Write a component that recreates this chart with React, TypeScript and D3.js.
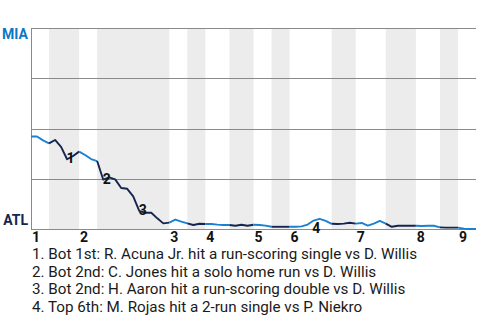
import React from "react";
import * as d3 from "d3";

// MIA win probability (%) after each play, play index 0..74
const miaWinProb = [
  46.0, 46.0, 44.1, 42.6, 44.3, 40.9, 34.7, 36.3, 38.5, 36.8,
  34.8, 33.8, 24.6, 25.7, 24.7, 20.4, 20.0, 16.2, 9.0, 8.1,
  8.1, 5.3, 2.8, 3.2, 4.7, 3.7, 2.8, 2.0, 2.6, 2.5,
  2.5, 2.2, 2.0, 2.0, 1.6, 2.1, 1.6, 2.1, 2.0, 1.7,
  1.1, 1.1, 1.1, 1.1, 1.1, 1.3, 2.2, 4.2, 5.0, 4.0,
  2.6, 2.5, 2.7, 3.1, 2.7, 3.0, 1.7, 2.7, 4.0, 2.7,
  1.1, 1.6, 1.6, 1.6, 1.6, 1.5, 1.6, 1.6, 0.8, 0.7,
  0.7, 0.7, 0.1, 0.0, 0.0,
];

const inningLabels = ["1", "2", "3", "4", "5", "6", "7", "8", "9"];
const inningStart = [0, 8, 23, 29, 37, 43, 54, 64, 71];
const bottomStart = [3, 11, 26, 33, 40, 50, 59, 68];
const lastPlay = 74;

const gridValues = [0, 25, 50, 75, 100];

const annotationPlays = [6, 12, 18, 48];
const annotationLabels = ["1", "2", "3", "4"];
const annotationTexts = [
  "1. Bot 1st: R. Acuna Jr. hit a run-scoring single vs D. Willis",
  "2. Bot 2nd: C. Jones hit a solo home run vs D. Willis",
  "3. Bot 2nd: H. Aaron hit a run-scoring double vs D. Willis",
  "4. Top 6th: M. Rojas hit a 2-run single vs P. Niekro",
];

const teamTop = "MIA";
const teamBottom = "ATL";

const MIA_BLUE = "#1b80d0";
const MIA_LABEL = "#0b78c5";
const ATL_NAVY = "#14254f";
const FONT = "Roboto, 'Noto Sans', sans-serif";

export default function App() {
  const W = 480;
  const H = 320;
  const left = 31;
  const right = 476;
  const top = 28;
  const bottom = 229;

  const x = d3.scaleLinear().domain([0, lastPlay]).range([left, right]);
  const y = d3.scaleLinear().domain([0, 100]).range([bottom, top]);

  const segPath = (a: number, b: number) => {
    const pts: [number, number][] = [];
    for (let i = a; i <= b; i++) pts.push([x(i), y(miaWinProb[i])]);
    return d3.line()(pts) || "";
  };

  const bands = bottomStart.map((s, i) => {
    const e = i + 1 < inningStart.length ? inningStart[i + 1] : lastPlay;
    return { s, e };
  });

  const segments: { a: number; b: number; color: string }[] = [];
  inningStart.forEach((s, i) => {
    const bs = i < bottomStart.length ? bottomStart[i] : lastPlay;
    segments.push({ a: s, b: bs, color: MIA_BLUE });
    if (i < bottomStart.length) {
      const e = i + 1 < inningStart.length ? inningStart[i + 1] : lastPlay;
      segments.push({ a: bs, b: e, color: ATL_NAVY });
    }
  });

  return (
    <svg
      width={W}
      height={H}
      style={{ position: "absolute", left: 0, top: 0, background: "#fff" }}
      fontFamily={FONT}
    >
      {bands.map((b, i) => (
        <rect
          key={"b" + i}
          x={x(b.s)}
          y={top}
          width={x(b.e) - x(b.s)}
          height={bottom - top}
          fill="#ececec"
        />
      ))}
      {gridValues.map((v) => (
        <line
          key={"g" + v}
          x1={left}
          x2={right}
          y1={Math.round(y(v)) + 0.5}
          y2={Math.round(y(v)) + 0.5}
          stroke="#8a8a8a"
          strokeWidth={1}
        />
      ))}
      <line
        x1={left + 0.5}
        x2={left + 0.5}
        y1={top}
        y2={bottom + 1}
        stroke="#8a8a8a"
        strokeWidth={1}
      />
      {segments.map((s, i) => (
        <path
          key={"s" + i}
          d={segPath(s.a, s.b)}
          fill="none"
          stroke={s.color}
          strokeWidth={1.9}
          strokeLinejoin="round"
        />
      ))}
      {annotationPlays.map((p, i) => {
        const rising = miaWinProb[p] > miaWinProb[p - 1];
        const cx = x(p) + (rising ? -3.5 : 3.5);
        const cy = y(miaWinProb[p]) + (rising ? 9 : -1);
        return (
          <text
            key={"a" + i}
            x={cx}
            y={cy + 5}
            textAnchor="middle"
            fontSize={14}
            fontWeight="bold"
            fill="#111"
          >
            {annotationLabels[i]}
          </text>
        );
      })}
      <text x={28} y={39} textAnchor="end" fontSize={14} fontWeight="bold" fill={MIA_LABEL}>
        {teamTop}
      </text>
      <text x={28} y={224.5} textAnchor="end" fontSize={14} fontWeight="bold" fill={ATL_NAVY}>
        {teamBottom}
      </text>
      {inningStart.map((s, i) => (
        <text
          key={"i" + i}
          x={x(s) + 5}
          y={242}
          textAnchor="middle"
          fontSize={14}
          fontWeight="bold"
          fill="#111"
        >
          {inningLabels[i]}
        </text>
      ))}
      {annotationTexts.map((t, i) => (
        <text key={"t" + i} x={32} y={259 + i * 17.5} fontSize={15.2} fill="#1a1a1a">
          {t}
        </text>
      ))}
    </svg>
  );
}
